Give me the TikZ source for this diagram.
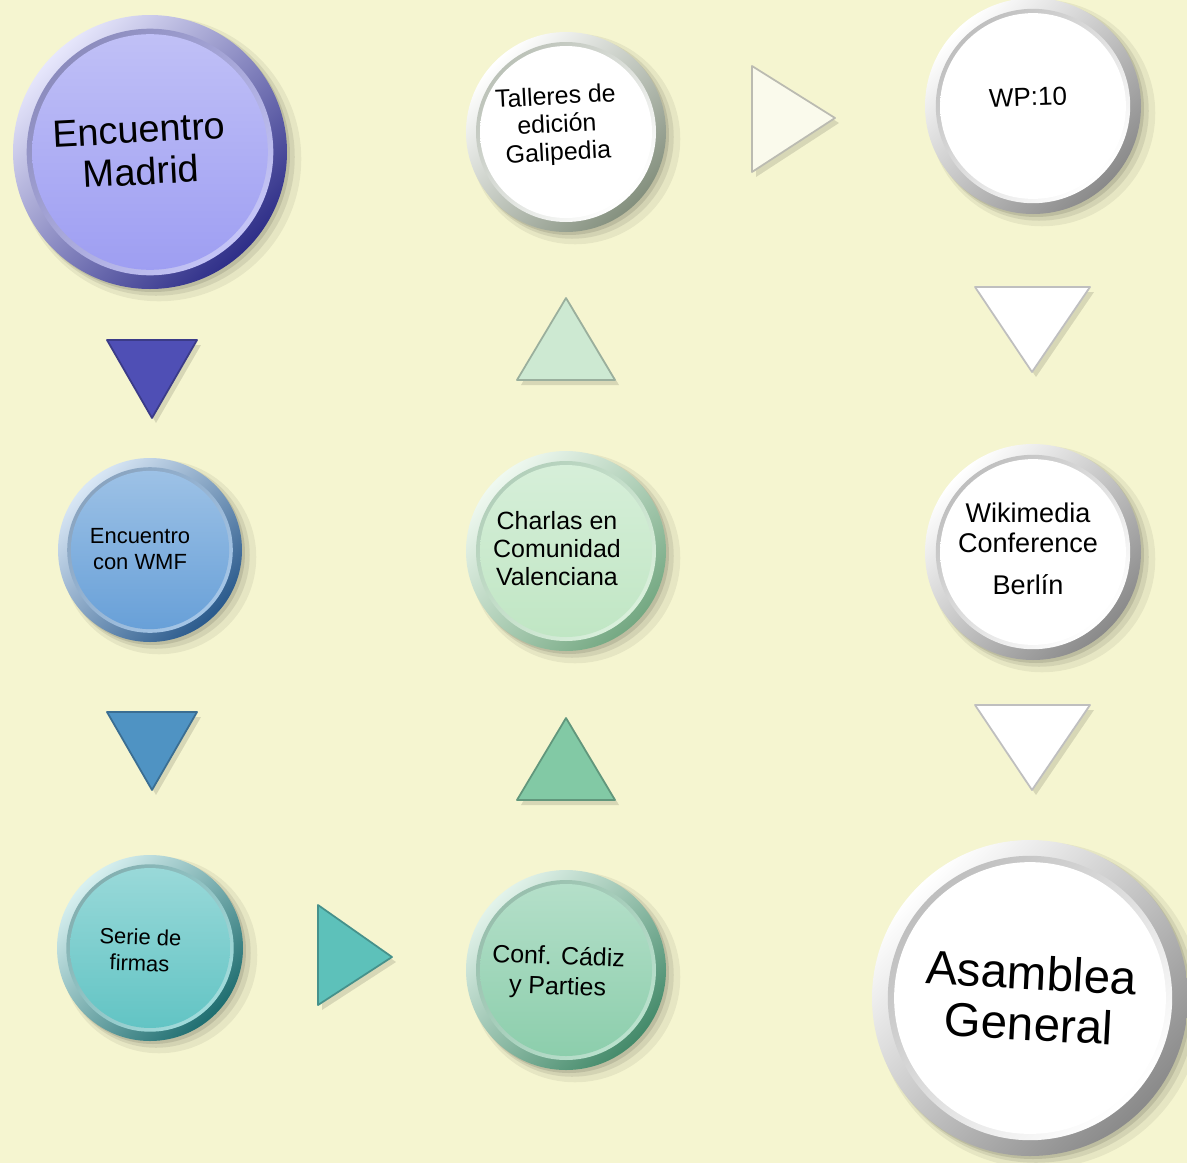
\documentclass[tikz,border=0pt]{standalone}
\usepackage{fontspec}
\setmainfont{Liberation Sans}
\usetikzlibrary{calc}
\definecolor{bg}{HTML}{F5F5D0}
\definecolor{madC}{HTML}{9E9EF2}\definecolor{madD}{HTML}{2E2E88}
\definecolor{wmfC}{HTML}{68A0D8}\definecolor{wmfD}{HTML}{2A5A8C}
\definecolor{serC}{HTML}{62C4C4}\definecolor{serD}{HTML}{1F6E70}
\definecolor{cadC}{HTML}{8CCEAC}\definecolor{cadD}{HTML}{448A6A}
\definecolor{chaC}{HTML}{C0E6C4}\definecolor{chaD}{HTML}{74A882}
\definecolor{talC}{HTML}{FFFFFF}\definecolor{talD}{HTML}{84907E}
\definecolor{whtC}{HTML}{FFFFFF}\definecolor{whtD}{HTML}{8A8A8A}
\definecolor{tA}{HTML}{4F4FB5}\definecolor{tB}{HTML}{4F93C3}
\definecolor{tC}{HTML}{5DC1BA}\definecolor{tD}{HTML}{82C9A5}
\definecolor{tE}{HTML}{CDE9D2}\definecolor{tF}{HTML}{FAFAEC}
\definecolor{tG}{HTML}{FFFFFF}
\def\u{0.02cm}
\tikzset{
  ringnode/.style={circle, inner sep=0pt, minimum size=#1},
  label/.style={align=center, text=black, inner sep=0pt},
  arrowtri/.style={fill=#1, draw=#1!75!black, line width=1pt, line join=round},
  trishadow/.style={fill=black, opacity=0.12, line join=round}
}
% #1 name, #2 x, #3 y, #4 radius px, #5 base colour, #6 rim colour
\newcommand\bubble[6]{%
  \fill[black,opacity=0.06] (#2+9,#3+7) circle[radius=#4*\u+3pt];
  \fill[black,opacity=0.08] (#2+6,#3+5) circle[radius=#4*\u+1pt];
  \fill[black,opacity=0.10] (#2+3,#3+3) circle[radius=#4*\u];
  \shade[top color=#5!25!white, bottom color=#6, shading angle=45] (#2,#3) circle[radius=#4*\u];
  \shade[top color=#6!55!white, bottom color=#5!60!white, shading angle=45] (#2,#3) circle[radius=0.9*#4*\u];
  \shade[top color=#5!65!white, bottom color=#5] (#2,#3) circle[radius=0.86*#4*\u];
  \node[ringnode=2*#4*\u] (#1) at (#2,#3) {};
}
\begin{document}
\begin{tikzpicture}[x=0.02cm, y=-0.02cm]
\fill[bg] (0,0) rectangle (1187,1163);
\useasboundingbox (0,0) rectangle (1187,1163);

% bubbles
\bubble{madrid}{150}{152}{137}{madC}{madD}
\bubble{wmf}{150}{550}{92}{wmfC}{wmfD}
\bubble{serie}{150}{948}{93}{serC}{serD}
\bubble{cadiz}{566}{970}{100}{cadC}{cadD}
\bubble{charlas}{566}{551}{100}{chaC}{chaD}
\bubble{talleres}{566}{132}{100}{talC}{talD}
\bubble{wp}{1033}{106}{108}{whtC}{whtD}
\bubble{berlin}{1033}{552}{108}{whtC}{whtD}
\bubble{asamblea}{1030}{998}{158}{whtC}{whtD}

% labels
\node[label, rotate=3, font=\fontsize{21.6}{23.9}\selectfont] (madrid-l) at (140,151) {Encuentro\\Madrid};
\node[label, font=\fontsize{12.5}{14.8}\selectfont] (wmf-l) at (140,549) {Encuentro\\con WMF};
\node[label, rotate=-2, font=\fontsize{12.5}{14.8}\selectfont] (serie-l) at (140,950) {Serie de\\firmas};
\node[label, rotate=-2, font=\fontsize{14.2}{17.1}\selectfont] (cadiz-l) at (558,973) {Conf. Cádiz\\y Parties};
\node[label, font=\fontsize{14.2}{15.9}\selectfont] (charlas-l) at (557,549) {Charlas en\\Comunidad\\Valenciana};
\node[label, rotate=3, font=\fontsize{14.2}{15.9}\selectfont] (talleres-l) at (557,126) {Talleres de\\edición\\Galipedia};
\node[label, rotate=2, font=\fontsize{14.8}{17}\selectfont] (wp-l) at (1028,97) {WP:10};
\node[label, font=\fontsize{15.4}{17.1}\selectfont] (berlin-l) at (1028,549) {Wikimedia\\Conference\\[7pt]Berlín};
\node[label, rotate=-3, font=\fontsize{27}{29}\selectfont] (asamblea-l) at (1030,998) {Asamblea\\General};

% triangle arrows (shadow, then body)
\fill[trishadow] (111,345) -- (201,345) -- (156,423) -- cycle;
\draw[arrowtri=tA] (107,340) -- (197,340) -- (152,418) -- cycle;
\fill[trishadow] (111,717) -- (201,717) -- (156,795) -- cycle;
\draw[arrowtri=tB] (107,712) -- (197,712) -- (152,790) -- cycle;
\fill[trishadow] (322,910) -- (322,1010) -- (396,962) -- cycle;
\draw[arrowtri=tC] (318,905) -- (318,1005) -- (392,957) -- cycle;
\fill[trishadow] (521,805) -- (619,805) -- (570,723) -- cycle;
\draw[arrowtri=tD] (517,800) -- (615,800) -- (566,718) -- cycle;
\fill[trishadow] (521,385) -- (619,385) -- (570,303) -- cycle;
\draw[arrowtri=tE] (517,380) -- (615,380) -- (566,298) -- cycle;
\fill[trishadow] (756,71) -- (756,177) -- (839,123) -- cycle;
\draw[arrowtri=tF] (752,66) -- (752,172) -- (835,118) -- cycle;
\fill[trishadow] (979,292) -- (1094,292) -- (1036,377) -- cycle;
\draw[arrowtri=tG] (975,287) -- (1090,287) -- (1032,372) -- cycle;
\fill[trishadow] (979,710) -- (1094,710) -- (1036,795) -- cycle;
\draw[arrowtri=tG] (975,705) -- (1090,705) -- (1032,790) -- cycle;
\end{tikzpicture}
\end{document}
